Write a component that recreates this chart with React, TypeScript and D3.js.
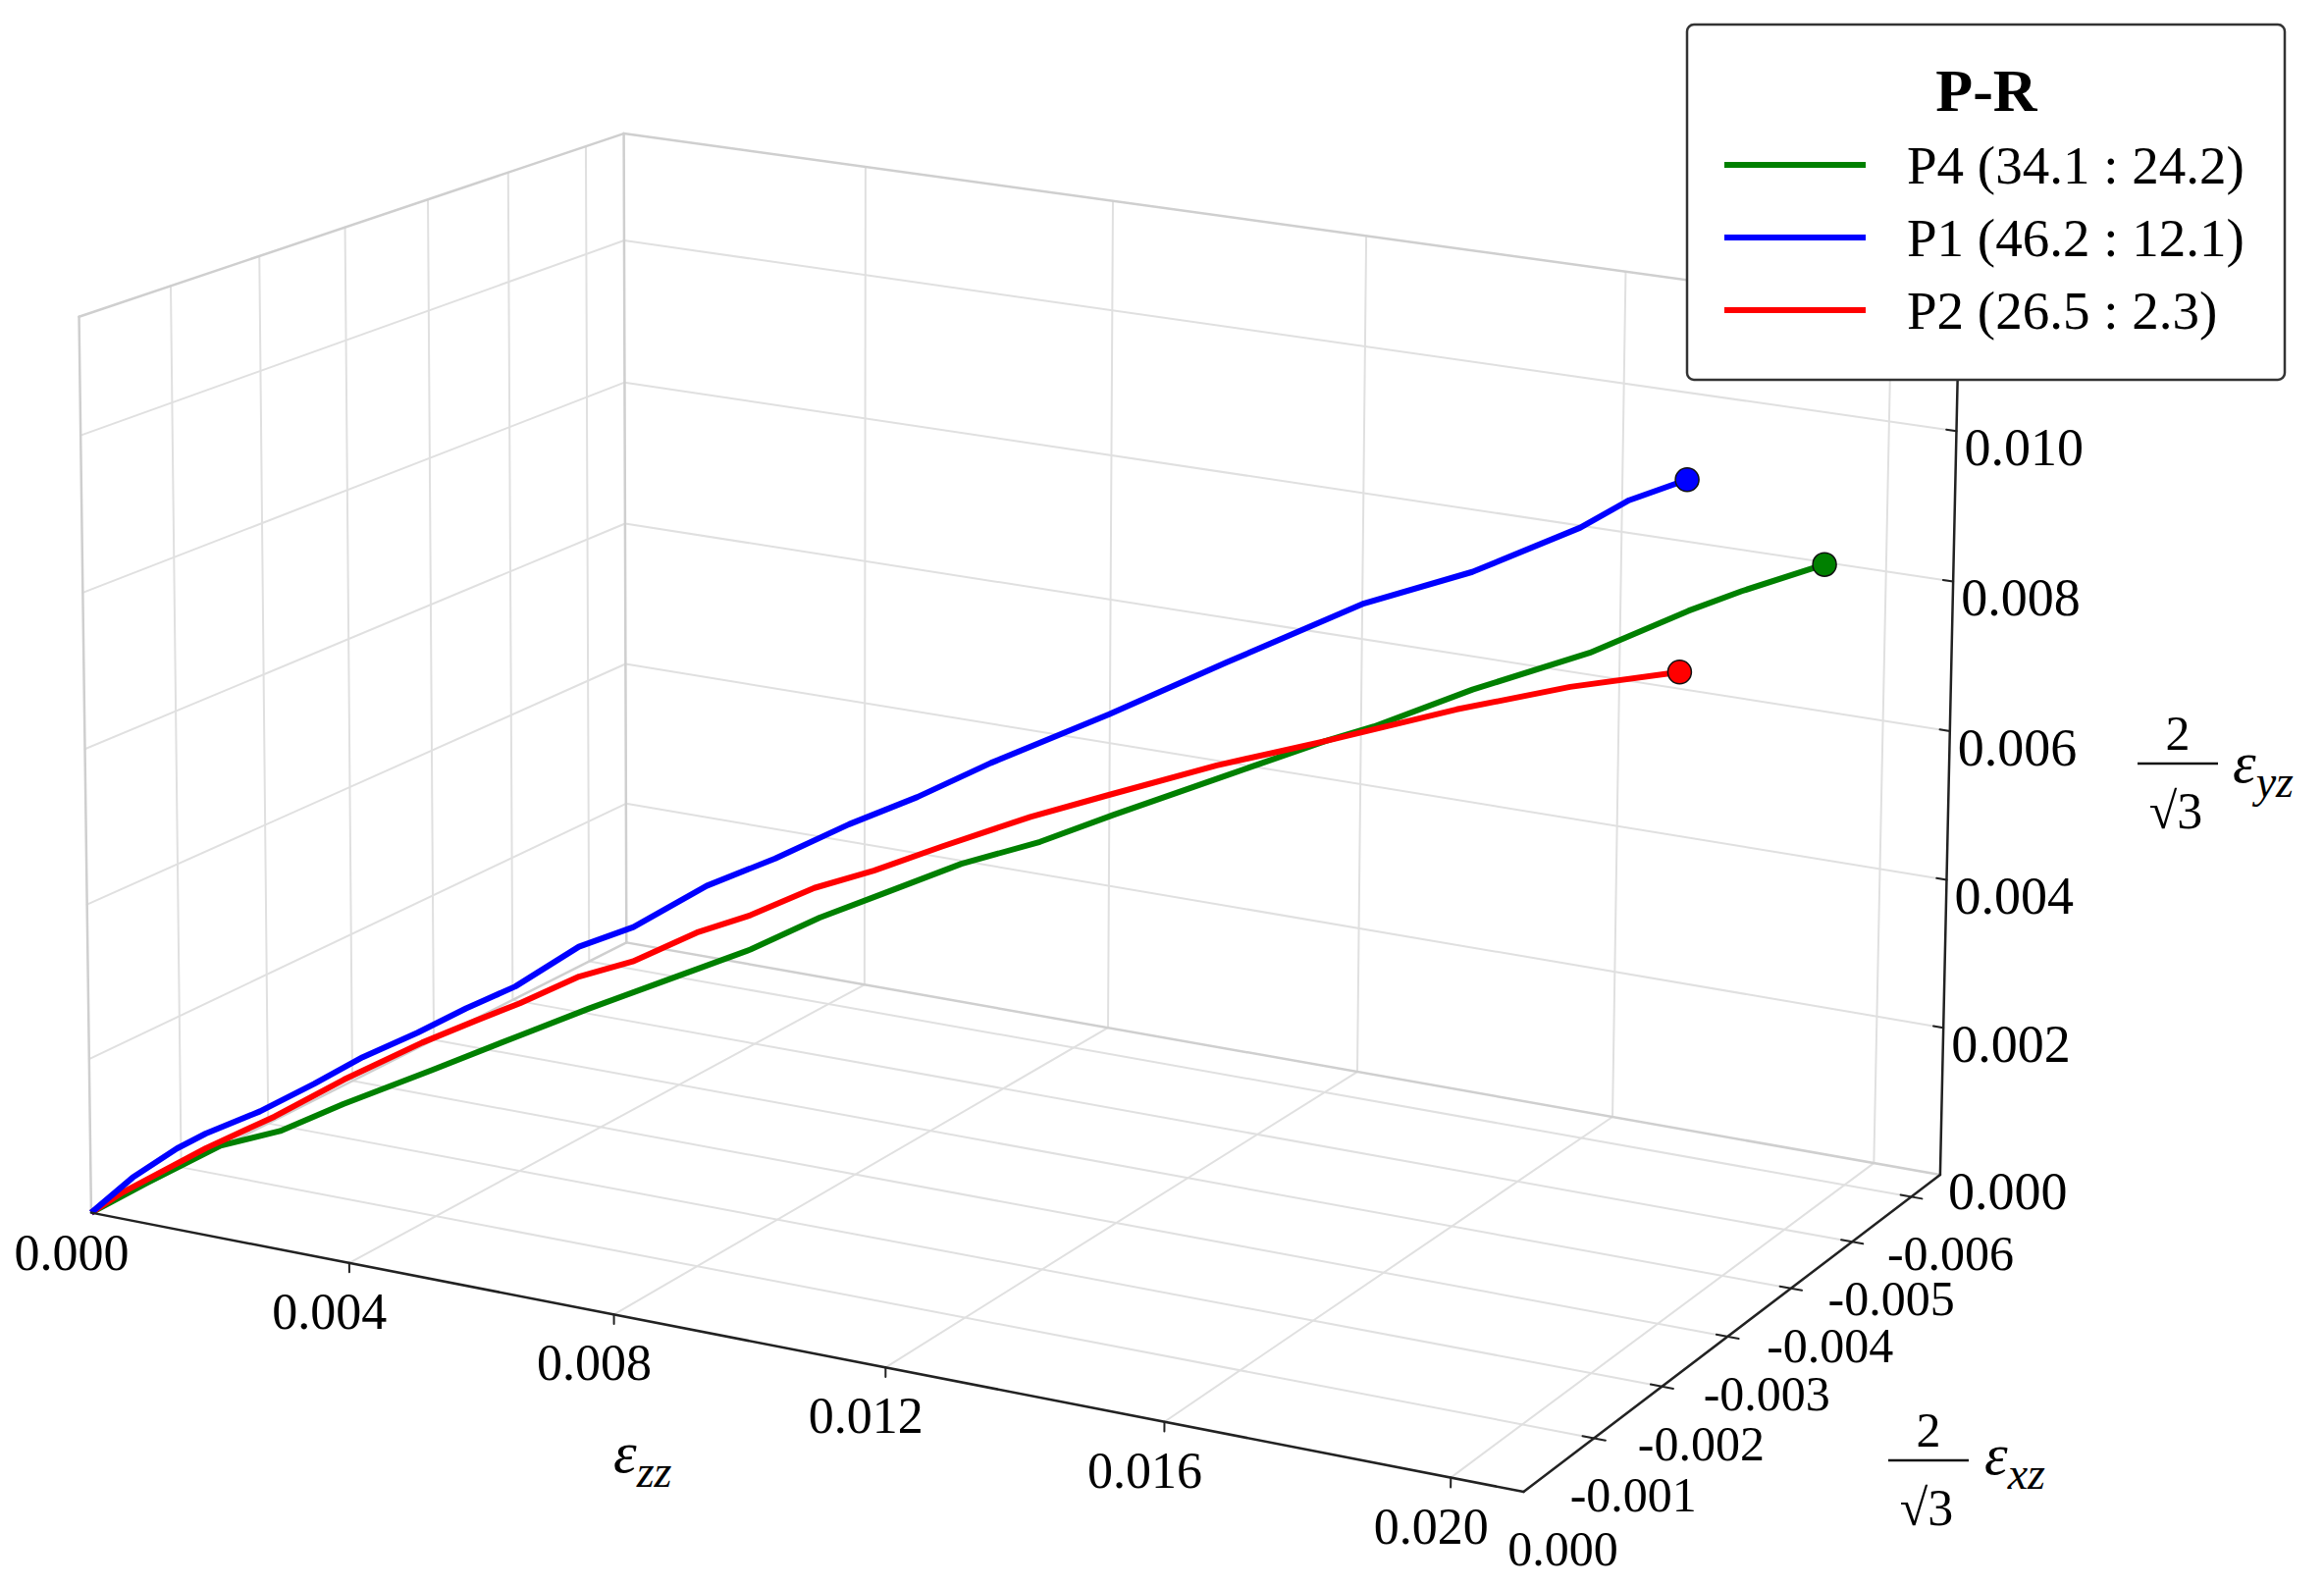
import { useEffect, useRef } from 'react';
import * as d3 from 'd3';

const WIDTH = 2368;
const HEIGHT = 1615;
const FONT = "'Liberation Serif', 'Times New Roman', serif";

// axis ranges of the 3D box
const ezzRange = [0, 0.021];
const exzRange = [0, -0.0065];
const eyzRange = [0, 0.0115];

const ezzTicks = [0, 0.004, 0.008, 0.012, 0.016, 0.02];
const exzTicks = [0, -0.001, -0.002, -0.003, -0.004, -0.005, -0.006];
const eyzTicks = [0, 0.002, 0.004, 0.006, 0.008, 0.01];

const seriesLabels = ['P4 (34.1 : 24.2)', 'P1 (46.2 : 12.1)', 'P2 (26.5 : 2.3)'];
const seriesColors = ['#008000', '#0000ff', '#ff0000'];

// P4 (green)
const p4Ezz = [0, 0.00062, 0.00143, 0.00209, 0.00279, 0.00378, 0.00476, 0.00553, 0.00635, 0.00734, 0.00812, 0.00884, 0.00972, 0.01061, 0.01145, 0.01274, 0.01386, 0.01442, 0.01555, 0.0169, 0.01804, 0.01866, 0.01962];
const p4Exz = [0, -0.000186, -0.000429, -0.000627, -0.000837, -0.001134, -0.001428, -0.001659, -0.001905, -0.002202, -0.002436, -0.002652, -0.002916, -0.003183, -0.003435, -0.003822, -0.004158, -0.004326, -0.004665, -0.00507, -0.005412, -0.005598, -0.005886];
const p4Eyz = [0, 0.00038, 0.00085, 0.00103, 0.00137, 0.0018, 0.00224, 0.00258, 0.00292, 0.00333, 0.00374, 0.00405, 0.00443, 0.00471, 0.00506, 0.00557, 0.00601, 0.0062, 0.00668, 0.00716, 0.00771, 0.00797, 0.00832];

// P1 (blue)
const p1Ezz = [0, 0.00046, 0.00095, 0.00127, 0.00187, 0.00247, 0.00301, 0.00362, 0.00416, 0.00471, 0.00542, 0.00603, 0.00685, 0.00762, 0.00845, 0.00922, 0.01005, 0.01139, 0.01272, 0.01429, 0.01553, 0.01677, 0.01733, 0.018];
const p1Exz = [0, -0.000138, -0.000285, -0.000381, -0.000561, -0.000741, -0.000903, -0.001086, -0.001248, -0.001413, -0.001626, -0.001809, -0.002055, -0.002286, -0.002535, -0.002766, -0.003015, -0.003417, -0.003816, -0.004287, -0.004659, -0.005031, -0.005199, -0.0054];
const p1Eyz = [0, 0.00045, 0.00082, 0.00101, 0.00129, 0.00164, 0.00198, 0.00229, 0.0026, 0.00288, 0.00339, 0.00364, 0.00417, 0.00452, 0.00496, 0.00531, 0.00575, 0.00638, 0.00705, 0.00782, 0.00823, 0.00881, 0.00917, 0.00944];

// P2 (red)
const p2Ezz = [0, 0.00035, 0.00127, 0.00203, 0.0028, 0.00367, 0.00427, 0.00476, 0.00542, 0.00602, 0.00674, 0.00734, 0.00806, 0.00873, 0.0095, 0.0105, 0.01139, 0.01262, 0.01386, 0.01537, 0.01668, 0.01795];
const p2Exz = [0, -0.000105, -0.000381, -0.000609, -0.00084, -0.001101, -0.001281, -0.001428, -0.001626, -0.001806, -0.002022, -0.002202, -0.002418, -0.002619, -0.00285, -0.00315, -0.003417, -0.003786, -0.004158, -0.004611, -0.005004, -0.005385];
const p2Eyz = [0, 0.00026, 0.00082, 0.00122, 0.00169, 0.00216, 0.00244, 0.00266, 0.003, 0.00319, 0.00356, 0.00378, 0.00413, 0.00435, 0.00466, 0.00504, 0.00532, 0.0057, 0.00601, 0.00642, 0.00671, 0.0069];

// where the box corners and ticks sit on the page: [ezz, exz, eyz, px, py]
const cameraAnchors: number[][] = [
  [0, 0, 0, 90, 1236],
  [0.004, 0, 0, 358, 1287],
  [0.008, 0, 0, 629, 1340],
  [0.012, 0, 0, 908, 1393],
  [0.016, 0, 0, 1194, 1448],
  [0.02, 0, 0, 1474, 1505],
  [0.021, 0, 0, 1552, 1517],
  [0.021, -0.001, 0, 1619, 1467],
  [0.021, -0.003, 0, 1757, 1365],
  [0.021, -0.006, 0, 1954, 1223],
  [0.021, -0.0065, 0, 1975, 1200],
  [0.021, -0.0065, 0.002, 1977.5, 1047.5],
  [0.021, -0.0065, 0.006, 1986, 742.5],
  [0.021, -0.0065, 0.01, 1995, 434],
  [0, 0, 0.01, 79, 439],
  [0, 0, 0.0115, 74, 323.5],
  [0, -0.001, 0.0115, 172.5, 292.5],
  [0, -0.002, 0.0115, 265, 262.5],
  [0, -0.003, 0.0115, 355, 232.5],
  [0, -0.004, 0.0115, 441, 205],
  [0, -0.005, 0.0115, 522.5, 177.5],
  [0, -0.006, 0.0115, 596, 151.5],
  [0, -0.0065, 0.0115, 634, 136.5],
  [0, -0.0065, 0.01, 635, 246.5],
  [0, -0.0065, 0.006, 636, 530],
  [0, -0.0065, 0.002, 637, 815],
  [0, -0.0065, 0, 638, 960],
  [0.004, -0.0065, 0, 878.5, 1003],
];

function solve(M: number[][], r: number[]) {
  const n = r.length;
  const a = M.map((row, i) => [...row, r[i]]);
  for (let c = 0; c < n; c++) {
    let piv = c;
    for (let i = c + 1; i < n; i++) if (Math.abs(a[i][c]) > Math.abs(a[piv][c])) piv = i;
    [a[c], a[piv]] = [a[piv], a[c]];
    for (let i = 0; i < n; i++) {
      if (i === c) continue;
      const f = a[i][c] / a[c][c];
      for (let j = c; j <= n; j++) a[i][j] -= f * a[c][j];
    }
  }
  return a.map((row, i) => row[n] / row[i]);
}

// least squares fit of a 3x4 perspective camera to the anchors (unit cube -> page)
function fitCamera(pts: number[][]) {
  const rows: number[][] = [];
  const rhs: number[] = [];
  for (const [u, v, w, px, py] of pts) {
    const x = px / 1000;
    const y = py / 1000;
    rows.push([u, v, w, 1, 0, 0, 0, 0, -x * u, -x * v, -x * w]);
    rhs.push(x);
    rows.push([0, 0, 0, 0, u, v, w, 1, -y * u, -y * v, -y * w]);
    rhs.push(y);
  }
  const n = 11;
  const AtA = d3.range(n).map((i) => d3.range(n).map((j) => d3.sum(rows, (r) => r[i] * r[j])));
  const Atb = d3.range(n).map((i) => d3.sum(rows, (r, k) => r[i] * rhs[k]));
  return solve(AtA, Atb);
}

function project(p: number[], u: number, v: number, w: number): [number, number] {
  const d = p[8] * u + p[9] * v + p[10] * w + 1;
  return [
    (1000 * (p[0] * u + p[1] * v + p[2] * w + p[3])) / d,
    (1000 * (p[4] * u + p[5] * v + p[6] * w + p[7])) / d,
  ];
}

export default function App() {
  const ref = useRef<SVGSVGElement | null>(null);

  useEffect(() => {
    const el = ref.current;
    if (!el) return;
    const svg = d3.select(el);
    svg.selectAll('*').remove();

    const sz = d3.scaleLinear().domain(ezzRange).range([0, 1]);
    const sx = d3.scaleLinear().domain(exzRange).range([0, 1]);
    const sy = d3.scaleLinear().domain(eyzRange).range([0, 1]);
    const cam = fitCamera(cameraAnchors.map(([a, b, c, x, y]) => [sz(a), sx(b), sy(c), x, y]));
    const P = (a: number, b: number, c: number) => project(cam, sz(a), sx(b), sy(c));

    const zMax = ezzRange[1];
    const xMin = exzRange[1];
    const yMax = eyzRange[1];

    const seg = (g: any, a: number[], b: number[], stroke: string, w: number) => {
      const p0 = P(a[0], a[1], a[2]);
      const p1 = P(b[0], b[1], b[2]);
      g.append('line')
        .attr('x1', p0[0]).attr('y1', p0[1])
        .attr('x2', p1[0]).attr('y2', p1[1])
        .attr('stroke', stroke).attr('stroke-width', w)
        .attr('stroke-linecap', 'round');
    };

    // walls and floor grid
    const grid = svg.append('g');
    const gc = '#e0e0e0';
    const ec = '#cfcfcf';
    ezzTicks.slice(1).forEach((t) => {
      seg(grid, [t, 0, 0], [t, xMin, 0], gc, 2);
      seg(grid, [t, xMin, 0], [t, xMin, yMax], gc, 2);
    });
    exzTicks.slice(1).forEach((t) => {
      seg(grid, [0, t, 0], [zMax, t, 0], gc, 2);
      seg(grid, [0, t, 0], [0, t, yMax], gc, 2);
    });
    eyzTicks.slice(1).forEach((t) => {
      seg(grid, [0, xMin, t], [zMax, xMin, t], gc, 2);
      seg(grid, [0, 0, t], [0, xMin, t], gc, 2);
    });
    seg(grid, [0, 0, 0], [0, xMin, 0], ec, 2.5);
    seg(grid, [0, xMin, 0], [zMax, xMin, 0], ec, 2.5);
    seg(grid, [0, xMin, 0], [0, xMin, yMax], ec, 2.5);
    seg(grid, [0, xMin, yMax], [zMax, xMin, yMax], ec, 2.5);
    seg(grid, [0, 0, 0], [0, 0, yMax], ec, 2.5);
    seg(grid, [0, 0, yMax], [0, xMin, yMax], ec, 2.5);

    // curves
    const series = [
      { ezz: p4Ezz, exz: p4Exz, eyz: p4Eyz },
      { ezz: p1Ezz, exz: p1Exz, eyz: p1Eyz },
      { ezz: p2Ezz, exz: p2Exz, eyz: p2Eyz },
    ];
    const line = d3.line<[number, number]>();
    [0, 2, 1].forEach((i) => {
      const s = series[i];
      const pts = s.ezz.map((z, k) => P(z, s.exz[k], s.eyz[k]));
      svg.append('path')
        .attr('d', line(pts))
        .attr('fill', 'none')
        .attr('stroke', seriesColors[i])
        .attr('stroke-width', 6)
        .attr('stroke-linejoin', 'round');
    });
    series.forEach((s, i) => {
      const k = s.ezz.length - 1;
      const [cx, cy] = P(s.ezz[k], s.exz[k], s.eyz[k]);
      svg.append('circle')
        .attr('cx', cx).attr('cy', cy).attr('r', 12)
        .attr('fill', seriesColors[i])
        .attr('stroke', '#111').attr('stroke-width', 1.5);
    });

    // axes
    const ax = svg.append('g');
    seg(ax, [0, 0, 0], [zMax, 0, 0], '#222', 2.5);
    seg(ax, [zMax, 0, 0], [zMax, xMin, 0], '#222', 2.5);
    seg(ax, [zMax, xMin, 0], [zMax, xMin, yMax], '#222', 2.5);

    const fmt = (v: number) => d3.format('.3f')(v).replace('−', '-');
    ezzTicks.forEach((t) => {
      if (t > 0) seg(ax, [t, 0, 0], [t, 0, -0.00012], '#222', 2);
      const [x, y] = P(t, 0, 0);
      ax.append('text').text(fmt(t))
        .attr('x', x - 20).attr('y', y + (t === 0 ? 58 : 67))
        .attr('text-anchor', 'middle')
        .attr('font-family', FONT).attr('font-size', 52);
    });
    exzTicks.forEach((t) => {
      if (t < 0) seg(ax, [zMax - 0.00016, t, 0], [zMax + 0.00016, t, 0], '#222', 2);
      const [x, y] = P(zMax, t, 0);
      ax.append('text').text(fmt(t))
        .attr('x', x + 40).attr('y', y + 75)
        .attr('text-anchor', 'middle')
        .attr('font-family', FONT).attr('font-size', 50);
    });
    eyzTicks.forEach((t) => {
      if (t > 0) seg(ax, [zMax - 0.00015, xMin, t], [zMax, xMin, t], '#222', 2);
      const [x, y] = P(zMax, xMin, t);
      ax.append('text').text(fmt(t))
        .attr('x', x + 8).attr('y', y + 35)
        .attr('font-family', FONT).attr('font-size', 54);
    });

    // axis titles
    const title = (x: number, y: number, sub: string) => {
      const t = svg.append('text')
        .attr('x', x).attr('y', y)
        .attr('font-family', FONT).attr('font-style', 'italic');
      t.append('tspan').attr('font-size', 60).text('ε');
      t.append('tspan').attr('font-size', 46).attr('dy', 15).text(sub);
    };
    const frac = (cx: number, barY: number) => {
      svg.append('text').text('2')
        .attr('x', cx).attr('y', barY - 14)
        .attr('text-anchor', 'middle')
        .attr('font-family', FONT).attr('font-size', 50);
      svg.append('line')
        .attr('x1', cx - 41).attr('x2', cx + 41)
        .attr('y1', barY).attr('y2', barY)
        .attr('stroke', '#111').attr('stroke-width', 2.5);
      svg.append('text').text('√3')
        .attr('x', cx - 2).attr('y', barY + 66)
        .attr('text-anchor', 'middle')
        .attr('font-family', FONT).attr('font-size', 52);
    };
    title(625, 1500, 'zz');
    frac(1965, 1488);
    title(2022, 1502, 'xz');
    frac(2219, 778);
    title(2275, 797, 'yz');

    // legend
    const lg = svg.append('g');
    lg.append('rect')
      .attr('x', 1719).attr('y', 25)
      .attr('width', 609).attr('height', 362)
      .attr('rx', 7)
      .attr('fill', '#fff').attr('stroke', '#333').attr('stroke-width', 2.5);
    lg.append('text').text('P-R')
      .attr('x', 2024).attr('y', 113)
      .attr('text-anchor', 'middle')
      .attr('font-family', FONT).attr('font-weight', 'bold').attr('font-size', 62);
    seriesLabels.forEach((label, i) => {
      const y = 168 + i * 74;
      lg.append('line')
        .attr('x1', 1757).attr('x2', 1901)
        .attr('y1', y).attr('y2', y)
        .attr('stroke', seriesColors[i]).attr('stroke-width', 6);
      lg.append('text').text(label)
        .attr('x', 1943).attr('y', y + 19)
        .attr('font-family', FONT).attr('font-size', 55);
    });
  }, []);

  return (
    <svg
      ref={ref}
      width={WIDTH}
      height={HEIGHT}
      style={{ position: 'absolute', left: 0, top: 0, background: '#fff' }}
    />
  );
}
